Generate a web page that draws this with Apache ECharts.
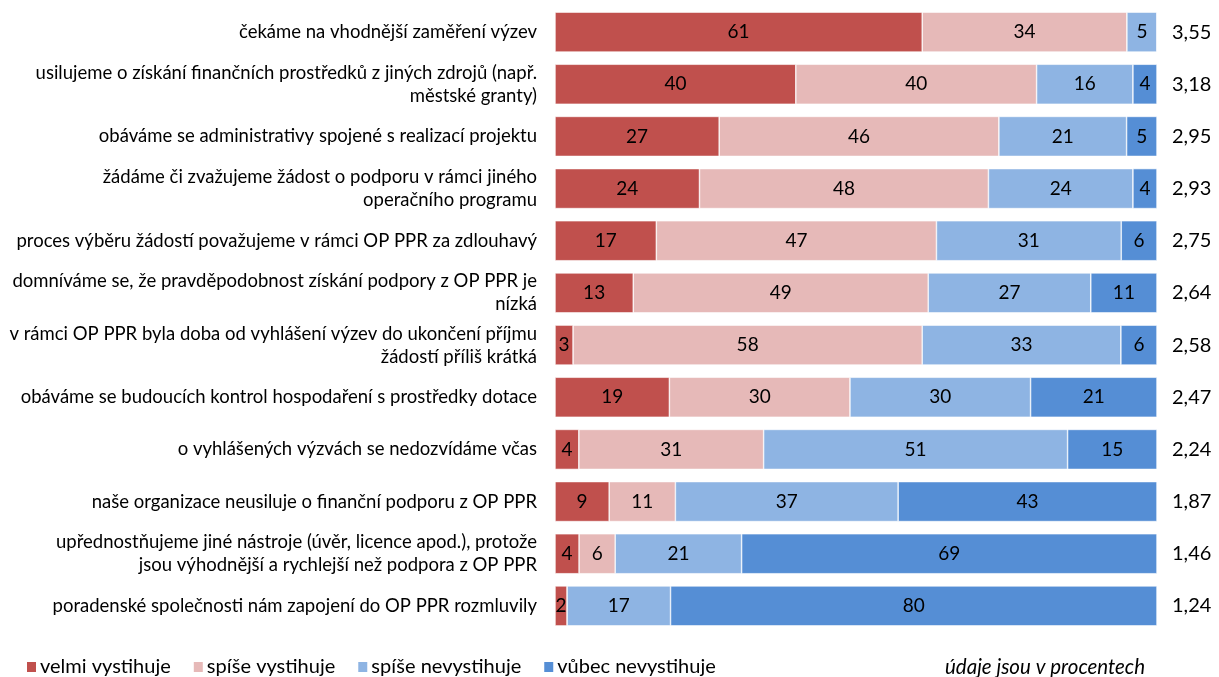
<!DOCTYPE html>
<html>
<head>
<meta charset="utf-8">
<script src="https://cdn.jsdelivr.net/npm/echarts@6/dist/echarts.min.js"></script>
<style>
  html, body { margin: 0; padding: 0; background: #fff; }
  #chart { width: 1219px; height: 677px; }
</style>
</head>
<body>
<div id="chart"></div>
<script>
const categories = [
  'čekáme na vhodnější zaměření výzev',
  'usilujeme o získání finančních prostředků z jiných zdrojů (např.\nměstské granty)',
  'obáváme se administrativy spojené s realizací projektu',
  'žádáme či zvažujeme žádost o podporu v rámci jiného\noperačního programu',
  'proces výběru žádostí považujeme v rámci OP PPR za zdlouhavý',
  'domníváme se, že pravděpodobnost získání podpory z OP PPR je\nnízká',
  'v rámci OP PPR byla doba od vyhlášení výzev do ukončení příjmu\nžádostí příliš krátká',
  'obáváme se budoucích kontrol hospodaření s prostředky dotace',
  'o vyhlášených výzvách se nedozvídáme včas',
  'naše organizace neusiluje o finanční podporu z OP PPR',
  'upřednostňujeme jiné nástroje (úvěr, licence apod.), protože\njsou výhodnější a rychlejší než podpora z OP PPR',
  'poradenské společnosti nám zapojení do OP PPR rozmluvily'
];
const seriesNames = ['velmi vystihuje', 'spíše vystihuje', 'spíše nevystihuje', 'vůbec nevystihuje'];
const velmiVystihuje   = [61, 40, 27, 24, 17, 13, 3, 19, 4, 9, 4, 2];
const spiseVystihuje   = [34, 40, 46, 48, 47, 49, 58, 30, 31, 11, 6, 0];
const spiseNevystihuje = [5, 16, 21, 24, 31, 27, 33, 30, 51, 37, 21, 17];
const vubecNevystihuje = [0, 4, 5, 4, 6, 11, 6, 21, 15, 43, 69, 80];
const means = ['3,55', '3,18', '2,95', '2,93', '2,75', '2,64', '2,58', '2,47', '2,24', '1,87', '1,46', '1,24'];
const colors = ['#C0504D', '#E6B9B8', '#8EB4E3', '#558ED5'];

const FONT = 'Lato';
const rows = [velmiVystihuje, spiseVystihuje, spiseNevystihuje, vubecNevystihuje];
// 100% skládaný graf: délka podle podílu, popisek původní hodnota
const totals = categories.map((c, i) => rows.reduce((s, r) => s + r[i], 0));

const chart = echarts.init(document.getElementById('chart'));
chart.setOption({
  animation: false,
  textStyle: { fontFamily: FONT },
  grid: { left: 555, right: 62, top: 6, bottom: 45, outerBoundsMode: 'none' },
  xAxis: { type: 'value', min: 0, max: 100, show: false },
  yAxis: [
    {
      type: 'category',
      data: categories,
      inverse: true,
      axisLine: { show: false },
      axisTick: { show: false },
      axisLabel: { color: '#000', fontSize: 18.5, fontFamily: FONT, margin: 18, lineHeight: 23, align: 'right' }
    },
    {
      type: 'category',
      data: means,
      inverse: true,
      position: 'right',
      axisLine: { show: false },
      axisTick: { show: false },
      axisLabel: { color: '#000', fontSize: 20, fontFamily: FONT, margin: 15 }
    }
  ],
  legend: {
    left: 20, top: 652,
    itemWidth: 11, itemHeight: 12, itemGap: 21,
    icon: 'rect',
    textStyle: { fontSize: 20, color: '#000', fontFamily: FONT, padding: [0, 0, 0, -2] },
    data: seriesNames
  },
  graphic: [{
    type: 'text', left: 945, top: 657,
    style: { text: 'údaje jsou v procentech', font: 'italic 20.5px ' + FONT, fill: '#000' }
  }],
  series: rows.map((arr, k) => ({
    name: seriesNames[k],
    type: 'bar',
    stack: 'total',
    barWidth: 40,
    itemStyle: { color: colors[k], borderColor: '#fff', borderWidth: 0.6 },
    label: {
      show: true, position: 'inside', color: '#000', fontSize: 19, fontFamily: FONT,
      formatter: p => arr[p.dataIndex] ? String(arr[p.dataIndex]) : ''
    },
    data: arr.map((v, i) => v / totals[i] * 100)
  }))
});
</script>
</body>
</html>
